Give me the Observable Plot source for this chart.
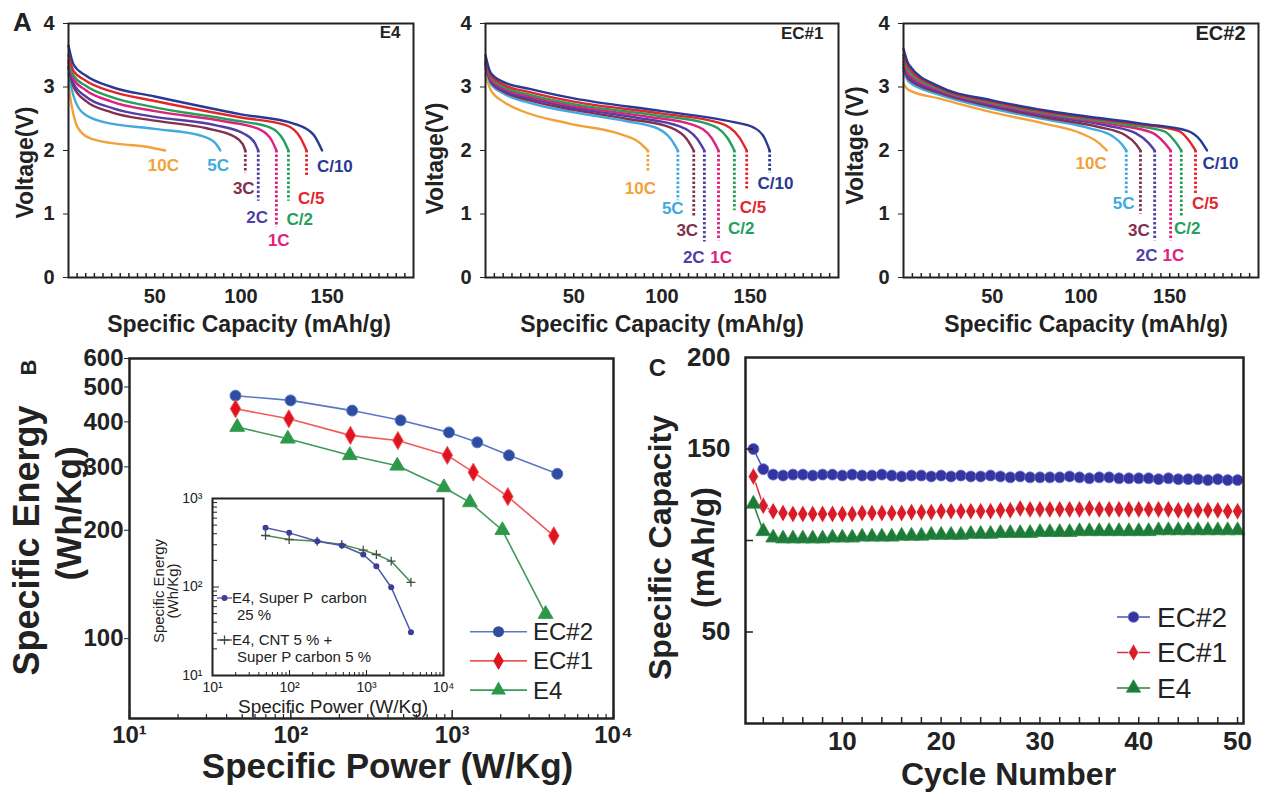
<!DOCTYPE html>
<html><head><meta charset="utf-8">
<script src="https://cdn.jsdelivr.net/npm/d3@7"></script>
<script src="https://cdn.jsdelivr.net/npm/@observablehq/plot@0.6"></script>
<style>
body{margin:0;background:#fff;}
#fig{position:relative;width:1265px;height:793px;overflow:hidden;background:#fff;}
</style></head><body><div id="fig"></div><script>
// ---------- DATA ----------
const rates = ["10C","5C","3C","2C","1C","C/2","C/5","C/10"];
const rateColors = ["#f2a23a","#3fa9e0","#83304e","#4f3fa6","#e0207c","#24a05c","#e1262c","#283a92"];

// Panel A: discharge curves [capacity mAh/g, voltage V], one array per rate (order of `rates`)
const e4Curves = [
  [[0,3.05],[1.5,2.75],[4,2.45],[8,2.27],[15,2.17],[30,2.1],[45,2.06],[56,2.0]],
  [[0,3.2],[3,2.85],[8,2.6],[20,2.45],[50,2.34],[76,2.24],[85,2.12],[88,2.0]],
  [[0,3.3],[3,3.0],[10,2.78],[25,2.6],[50,2.47],[80,2.35],[96,2.22],[101,2.1],[102.5,2.0]],
  [[0,3.32],[3,3.05],[10,2.85],[25,2.67],[50,2.53],[85,2.4],[102,2.26],[108,2.12],[110,2.0]],
  [[0,3.38],[3,3.12],[10,2.95],[25,2.77],[50,2.62],[90,2.46],[111,2.33],[118,2.15],[120.5,2.0]],
  [[0,3.42],[3,3.18],[10,3.02],[25,2.84],[50,2.68],[95,2.48],[117,2.36],[124.5,2.17],[127.5,2.0]],
  [[0,3.5],[3,3.25],[10,3.1],[25,2.93],[50,2.78],[100,2.52],[126,2.4],[134.5,2.2],[138,2.0]],
  [[0,3.65],[3,3.35],[10,3.18],[25,3.0],[50,2.85],[100,2.57],[131,2.42],[142,2.25],[147,2.0]]
];
const ec1Curves = [
  [[0,3.2],[3,2.95],[10,2.77],[20,2.63],[48,2.42],[76,2.26],[87,2.13],[92,2.0]],
  [[0,3.3],[3,3.05],[10,2.9],[25,2.75],[50,2.6],[80,2.46],[98,2.34],[105,2.18],[109,2.0]],
  [[0,3.35],[3,3.08],[10,2.93],[25,2.79],[50,2.64],[80,2.5],[105,2.36],[114,2.18],[118,2.0]],
  [[0,3.37],[3,3.1],[10,2.95],[25,2.82],[50,2.67],[85,2.52],[110,2.38],[120,2.18],[124,2.0]],
  [[0,3.4],[3,3.13],[10,2.98],[25,2.85],[50,2.7],[90,2.54],[118,2.4],[128,2.2],[132,2.0]],
  [[0,3.42],[3,3.16],[10,3.01],[25,2.88],[50,2.73],[95,2.56],[126,2.42],[137,2.2],[141,2.0]],
  [[0,3.45],[3,3.18],[10,3.04],[25,2.92],[50,2.77],[100,2.58],[133,2.43],[144,2.2],[148,2.0]],
  [[0,3.5],[3,3.22],[10,3.08],[25,2.97],[50,2.82],[100,2.62],[140,2.45],[152,2.36],[158,2.2],[161,2.0]]
];
const ec2Curves = [
  [[0,3.05],[3,2.95],[20,2.82],[50,2.6],[80,2.42],[100,2.27],[110,2.12],[114.5,2.0]],
  [[0,3.25],[3,3.08],[20,2.88],[50,2.66],[80,2.49],[105,2.35],[118,2.22],[123,2.1],[125.5,2.0]],
  [[0,3.3],[3,3.12],[20,2.91],[50,2.69],[80,2.52],[110,2.37],[125,2.24],[131,2.1],[133.5,2.0]],
  [[0,3.35],[3,3.16],[20,2.93],[50,2.71],[80,2.55],[115,2.39],[131,2.27],[138,2.12],[141.5,2.0]],
  [[0,3.4],[3,3.2],[20,2.95],[50,2.73],[80,2.57],[120,2.4],[140,2.28],[147,2.12],[150.5,2.0]],
  [[0,3.45],[3,3.25],[20,2.97],[50,2.75],[80,2.59],[125,2.41],[147,2.3],[153,2.14],[156.5,2.0]],
  [[0,3.5],[3,3.3],[20,2.99],[50,2.77],[80,2.61],[130,2.42],[155,2.31],[161,2.15],[164.5,2.0]],
  [[0,3.6],[3,3.35],[20,3.01],[50,2.79],[80,2.63],[135,2.42],[160,2.31],[167,2.17],[171,2.0]]
];
// rate label anchors [capacity, voltage] and dotted cut-off bottoms (V)
const e4Labels  = [[55,1.76],[86.7,1.76],[101.6,1.40],[109.4,0.95],[121.9,0.58],[134.1,0.92],[140.7,1.24],[154.4,1.74]];
const e4Drops   = [null,null,1.64,1.2,0.79,1.2,1.58,null];
const ec1Labels = [[87.8,1.40],[106.1,1.09],[114.3,0.74],[118,0.32],[133.5,0.32],[144.9,0.77],[151.5,1.1],[164.3,1.48]];
const ec1Drops  = [1.66,1.21,0.95,0.56,0.58,1.05,1.37,1.64];
const ec2Labels = [[105.7,1.79],[124,1.16],[132.6,0.74],[137,0.35],[152,0.35],[159.8,0.77],[170,1.16],[178.6,1.79]];
const ec2Drops  = [null,1.32,1.0,0.58,0.58,0.95,1.32,null];

// Panel B: Ragone plot
const bSeries = ["EC#2","EC#1","E4"];
const bPowerEC2  = [45.4,99.6,240,479,955,1432,2249,4483];
const bEnergyEC2 = [473,459,430,404,374,351,323,287];
const bPowerEC1  = [45.4,97.2,234,461,933,1352,2213,4267];
const bEnergyEC1 = [435,408,367,355,323,290,248,193];
const bPowerE4   = [46.5,95.8,232,457,889,1288,2047,3793];
const bEnergyE4  = [387,359,323,302,263,239,200,117];

// Panel B inset
const insetNames  = [["E4, Super P  carbon","25 %"],["E4, CNT 5 % +","Super P carbon 5 %"]];
const insetPower  = [48.8,99,229,478,907,1343,2093,3776];
const insetSuperP = [467,409,329,294,233,172,99.5,30.8];
const insetCNT    = [382,344,329,302,261,233,196,113];

// Panel C: cycling
const cycles = d3.range(1, 51);
const capEC2 = [150,139,136,135.5,136,136,135.5,136,136,135.5,136,135.5,135.5,136,135.5,135,135.5,135.5,135,135.5,135,135.5,135,135,135.5,135,134.5,135,134.5,134.5,134.5,134.5,135,134.5,134,134.5,134.5,134,134,134,134,133.5,134,133.5,133.5,133.5,133,133.5,133,133];
const capEC1 = [135,119,116,115,114.5,114.5,114.5,114.5,114.5,114.5,114.5,115,115,115,115,115,115.5,115.5,115.5,116,116,116,116,116,116,116.5,116.5,117.5,117,117,117,117,117,117,117.5,117,117,117,117,117,117,117,117,116.5,116.5,116.5,116.5,116.5,116,116];
const capE4  = [120,105,101.5,101,101,101,101,101,101.5,101.5,101.5,102,102,102,102,102.5,102.5,102.5,103,103,103,103,103.5,103.5,103.5,104,104,104,104,104.5,104.5,104.5,104.5,105,105,105,105,105,105,105,105,105.5,105.5,105.5,105.5,105.5,105.5,105.5,105.5,105.5];

// ---------- HELPERS ----------
const FONT = '"Liberation Sans", Arial, Helvetica, sans-serif';
const INK = "#222";
const sup = {1:"\u00b9",2:"\u00b2",3:"\u00b3",4:"\u2074"};
const pow10 = d => "10" + sup[Math.round(Math.log10(d))];
const style = fs => ({fontFamily: FONT, fontSize: fs + "px", fontWeight: "bold", color: INK, background: "transparent", overflow: "visible"});
const fig = document.getElementById("fig");
function place(svg, left, top) {
  svg.style.position = "absolute"; svg.style.left = left + "px"; svg.style.top = top + "px";
  svg.style.maxWidth = "none"; fig.appendChild(svg); return svg;
}
function label(t, o) {
  return Plot.text([t], Object.assign({text: d => d, textAnchor: "middle", lineAnchor: "middle", fill: INK, fontWeight: "bold"}, o));
}
function legend(svg, items, o) {
  const g = d3.select(svg).append("g").attr("font-family", FONT).attr("font-size", o.fontSize)
    .attr("font-weight", o.fontWeight || "normal").attr("fill", INK).attr("text-anchor", "start");
  items.forEach((it, i) => {
    const y = o.y + i * o.gap;
    g.append("line").attr("x1", o.x1).attr("x2", o.x2).attr("y1", y).attr("y2", y)
      .attr("stroke", it.line).attr("stroke-width", o.lw || 1.5);
    g.append("path").attr("transform", `translate(${(o.x1 + o.x2) / 2},${y})`)
      .attr("d", d3.symbol(it.symbol, o.size)()).attr("fill", it.fill || "none")
      .attr("stroke", it.stroke || "none").attr("stroke-width", it.sw || 1);
    [].concat(it.label).forEach((t, j) => g.append("text").attr("text-anchor", "start")
      .attr("x", o.tx + (j ? (o.indent || 0) : 0)).attr("y", y + j * (o.lineGap || 0))
      .attr("dy", "0.35em").text(t));
  });
}

// ---------- PANEL A ----------
function panelA(c) {
  const H = 340, mT = 23, mB = 63;
  const fH = H - mT - mB;
  const lineData = c.curves.flatMap((cv, i) => cv.map(([x, y]) => ({rate: rates[i], x, y})));
  const labelData = c.labels.map(([x, y], i) => ({rate: rates[i], x, y}));
  const dropData = c.drops.map((b, i) => b == null ? null :
    ({rate: rates[i], x: c.curves[i].at(-1)[0], y1: c.curves[i].at(-1)[1], y2: b})).filter(Boolean);
  const marks = [
    Plot.line(lineData, {x: "x", y: "y", z: "rate", stroke: "rate", strokeWidth: 2.4, curve: "monotone-x"}),
    Plot.ruleX(dropData, {x: "x", y1: "y1", y2: "y2", stroke: "rate", strokeWidth: 2.8, strokeDasharray: "2.5,2"}),
    Plot.text(labelData, {x: "x", y: "y", text: "rate", fill: "rate", fontSize: 17, fontWeight: "bold"}),
    Plot.tickX(d3.range(5, 200, 5), {x: d => d, insetTop: fH - 4, stroke: INK, strokeWidth: 1.5}),
    Plot.frame({stroke: INK, strokeWidth: 2}),
    label(c.name, {frameAnchor: "top-right", textAnchor: "end", dx: c.ndx, dy: c.ndy, fontSize: c.nameSize}),
    label("Specific Capacity (mAh/g)", {frameAnchor: "bottom", dx: c.xtdx, dy: 47, fontSize: 23}),
    label(c.yTitle, {frameAnchor: "left", rotate: -90, dx: c.ytdx, dy: c.ytdy, fontSize: 23})
  ];
  if (c.letter) marks.push(label(c.letter, {frameAnchor: "top-left", dx: -46, dy: -1, fontSize: 26}));
  return Plot.plot({
    width: c.width, height: H, marginLeft: c.mL, marginRight: c.mR, marginTop: mT, marginBottom: mB,
    x: {domain: [0, 200], ticks: [50, 100, 150], tickFormat: d => String(d), tickSize: 0, tickPadding: 11, label: null},
    y: {domain: [0, 4], ticks: [0, 1, 2, 3, 4], tickFormat: d => String(d), tickSize: 5, tickPadding: 9, label: null},
    color: {domain: rates, range: rateColors},
    style: style(20), marks
  });
}
place(panelA({curves: e4Curves, labels: e4Labels, drops: e4Drops, name: "E4", nameSize: 17, ndx: -13, ndy: 9,
  yTitle: "Voltage(V)", width: 420, mL: 68, mR: 7, xtdx: 8, ytdx: -43, ytdy: 12, letter: "A"}), 0, 0);
place(panelA({curves: ec1Curves, labels: ec1Labels, drops: ec1Drops, name: "EC#1", nameSize: 17, ndx: -15, ndy: 10,
  yTitle: "Voltage(V)", width: 420, mL: 65, mR: 2, xtdx: 0, ytdx: -50, ytdy: 8}), 420, 0);
place(panelA({curves: ec2Curves, labels: ec2Labels, drops: ec2Drops, name: "EC#2", nameSize: 20, ndx: -13, ndy: 10,
  yTitle: "Voltage (V)", width: 425, mL: 63, mR: 7, xtdx: 5, ytdx: -48, ytdy: -5}), 840, 0);

// ---------- PANEL B ----------
const bColors = {line: ["#5a78c4","#ee5a5a","#3f9a58"], fill: ["#2f4da0","#e0141e","#2a9a48"], symbol: ["circle","diamond","triangle"]};
const bData = [[bPowerEC2, bEnergyEC2], [bPowerEC1, bEnergyEC1], [bPowerE4, bEnergyE4]]
  .map(([p, e], i) => p.map((x, k) => ({series: bSeries[i], x, y: e[k]})));
const decades = [10, 100, 1000];
const minorLog = decades.flatMap(d => [2,3,4,5,6,7,8,9].map(k => k * d));
{
  const W = 640, H = 453, mL = 129, mR = 27, mT = 18, mB = 75, fH = H - mT - mB;
  const marks = [];
  bData.forEach((s, i) => {
    marks.push(Plot.line(s, {x: "x", y: "y", stroke: bColors.line[i], strokeWidth: 1.6}));
    marks.push(Plot.dot(s, {x: "x", y: "y", symbol: bColors.symbol[i], r: 5.5, fill: bColors.fill[i], stroke: bColors.line[i], strokeWidth: 1}));
  });
  marks.push(
    Plot.tickX([10, 100, 1000, 10000], {x: d => d, insetTop: fH - 8, stroke: INK, strokeWidth: 1.5}),
    Plot.tickX(minorLog, {x: d => d, insetTop: fH - 4, stroke: INK, strokeWidth: 1.2}),
    Plot.frame({stroke: INK, strokeWidth: 2.5}),
    label("Specific Power (W/Kg)", {frameAnchor: "bottom", dx: 16, dy: 48, fontSize: 35}),
    label("Specific Energy", {frameAnchor: "left", rotate: -90, dx: -102, dy: 2, fontSize: 36}),
    label("(Wh/Kg)", {frameAnchor: "left", rotate: -90, dx: -60, dy: -25, fontSize: 35}),
    label("B", {frameAnchor: "top-left", rotate: -90, dx: -101, dy: 9, fontSize: 22})
  );
  const svg = Plot.plot({
    width: W, height: H, marginLeft: mL, marginRight: mR, marginTop: mT, marginBottom: mB,
    x: {type: "log", domain: [10, 10000], ticks: [10, 100, 1000, 10000], tickFormat: pow10, tickSize: 0, tickPadding: 7, label: null},
    y: {type: "log", domain: [60, 600], ticks: [100, 200, 300, 400, 500, 600], tickFormat: d => String(d), tickSize: 5, tickPadding: 1, label: null},
    style: style(24), marks
  });
  place(svg, 0, 340);
  legend(svg, bSeries.map((n, i) => ({label: n, line: bColors.line[i], fill: bColors.fill[i], symbol: d3["symbol" + bColors.symbol[i][0].toUpperCase() + bColors.symbol[i].slice(1)]})),
    {x1: 470, x2: 527, y: 291.7, gap: 29.2, tx: 533, fontSize: 24, size: 95, lw: 1.6});
}

// ---------- INSET ----------
{
  const W = 320, H = 250, mL = 72, mR = 17, mT = 28, mB = 45, fW = W - mL - mR, fH = H - mT - mB;
  const sp = insetPower.map((x, k) => ({x, y: insetSuperP[k]}));
  const cn = insetPower.map((x, k) => ({x, y: insetCNT[k]}));
  const yMinor = [10, 100].flatMap(d => [2,3,4,5,6,7,8,9].map(k => k * d));
  const svg = Plot.plot({
    width: W, height: H, marginLeft: mL, marginRight: mR, marginTop: mT, marginBottom: mB,
    x: {type: "log", domain: [10, 10000], ticks: [10, 100, 1000, 10000], tickFormat: pow10, tickSize: 0, tickPadding: 7, label: null},
    y: {type: "log", domain: [10, 1000], ticks: [10, 100, 1000], tickFormat: pow10, tickSize: 0, tickPadding: 10, label: null},
    style: Object.assign(style(14), {fontWeight: "normal"}),
    marks: [
      Plot.frame({fill: "white", stroke: "none"}),
      Plot.line(cn, {x: "x", y: "y", stroke: "#4f8a55", strokeWidth: 1.5}),
      Plot.dot(cn, {x: "x", y: "y", symbol: "plus", r: 3, stroke: "#3d4f45", strokeWidth: 1.3}),
      Plot.line(sp, {x: "x", y: "y", stroke: "#4d55a8", strokeWidth: 1.5}),
      Plot.dot(sp, {x: "x", y: "y", symbol: "circle", r: 3, fill: "#3a3f98"}),
      Plot.tickX(minorLog, {x: d => d, insetTop: fH - 3, stroke: INK}),
      Plot.tickX([100, 1000], {x: d => d, insetTop: fH - 5, stroke: INK}),
      Plot.tickY(yMinor, {y: d => d, insetRight: fW - 5, stroke: INK}),
      Plot.tickY([100], {y: d => d, insetRight: fW - 7, stroke: INK}),
      Plot.frame({stroke: INK, strokeWidth: 2}),
      label("Specific Power (W/Kg)", {frameAnchor: "bottom", dx: 5, dy: 31, fontSize: 19, fontWeight: "normal"}),
      label("Specific Energy", {frameAnchor: "left", rotate: -90, dx: -53, dy: 4, fontSize: 15, fontWeight: "normal"}),
      label("(Wh/Kg)", {frameAnchor: "left", rotate: -90, dx: -39, dy: 4, fontSize: 15, fontWeight: "normal"})
    ]
  });
  place(svg, 140, 470);
  legend(svg, [
    {label: insetNames[0], line: "#4d55a8", fill: "#3a3f98", symbol: d3.symbolCircle},
    {label: insetNames[1], line: "#3d4f45", stroke: "#3d4f45", symbol: d3.symbolPlus, sw: 1.3}
  ], {x1: 77, x2: 92, y: 128, gap: 42, tx: 92, indent: 5, lineGap: 17, fontSize: 15, size: 28, lw: 1.3});
}

// ---------- PANEL C ----------
{
  const W = 625, H = 453, mL = 105, mR = 22, mT = 17, mB = 70, fW = W - mL - mR, fH = H - mT - mB;
  const cSeries = ["EC#2","EC#1","E4"];
  const cFill = ["#3535a0","#d81c28","#1e7a38"], cStroke = ["#6a72d4","#ffffff","#2f8f48"], cLine = ["#4a55b8","#d83040","#2a8040"];
  const cSym = ["circle","diamond","triangle"];
  const cData = [capEC2, capEC1, capE4].map(v => cycles.map((x, k) => ({x, y: v[k]})));
  const marks = [];
  cData.forEach((s, i) => {
    marks.push(Plot.line(s, {x: "x", y: "y", stroke: cLine[i], strokeWidth: 1.5}));
    marks.push(Plot.dot(s, {x: "x", y: "y", symbol: cSym[i], r: 5.5, fill: cFill[i], stroke: cStroke[i], strokeWidth: 0.8}));
  });
  marks.push(
    Plot.tickX(d3.range(2, 51, 2), {x: d => d, insetTop: fH - 6, stroke: INK, strokeWidth: 1.5}),
    Plot.tickY([50, 100, 150], {y: d => d, insetRight: fW - 8, stroke: INK, strokeWidth: 1.5}),
    Plot.frame({stroke: INK, strokeWidth: 2.5}),
    label("Cycle Number", {frameAnchor: "bottom", dx: 14, dy: 51, fontSize: 32}),
    label("Specific Capacity", {frameAnchor: "left", rotate: -90, dx: -85, dy: 7, fontSize: 32}),
    label("(mAh/g)", {frameAnchor: "left", rotate: -90, dx: -42, dy: 7, fontSize: 32}),
    label("C", {frameAnchor: "top-left", dx: -88, dy: 11, fontSize: 24})
  );
  const svg = Plot.plot({
    width: W, height: H, marginLeft: mL, marginRight: mR, marginTop: mT, marginBottom: mB,
    x: {domain: [0.2, 50.6], ticks: [10, 20, 30, 40, 50], tickSize: 0, tickPadding: 8, label: null},
    y: {domain: [0, 200], ticks: [50, 100, 150, 200], tickFormat: d => d === 100 ? "" : String(d), tickSize: 0, tickPadding: 15, label: null},
    style: style(26), marks
  });
  place(svg, 640, 340);
  legend(svg, cSeries.map((n, i) => ({label: n, line: cLine[i], fill: cFill[i], stroke: cStroke[i], sw: 0.8,
      symbol: d3["symbol" + cSym[i][0].toUpperCase() + cSym[i].slice(1)]})),
    {x1: 477, x2: 510, y: 277, gap: 35.5, tx: 517, fontSize: 28, size: 90, lw: 1.5});
}
</script></body></html>
